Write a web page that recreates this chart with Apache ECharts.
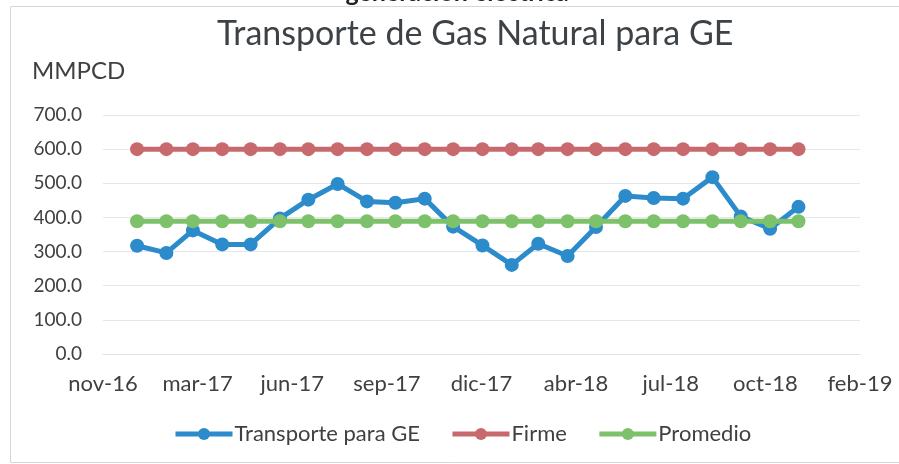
<!DOCTYPE html>
<html>
<head>
<meta charset="utf-8">
<script src="https://cdn.jsdelivr.net/npm/echarts@6/dist/echarts.min.js"></script>
<style>
  html, body { margin: 0; padding: 0; background: #fff; }
  #chart { width: 899px; height: 464px; }
</style>
</head>
<body>
<div id="chart"></div>
<script>
// monthly data, jan-2017 .. dec-2018
const months = [
  "2017-01", "2017-02", "2017-03", "2017-04", "2017-05", "2017-06",
  "2017-07", "2017-08", "2017-09", "2017-10", "2017-11", "2017-12",
  "2018-01", "2018-02", "2018-03", "2018-04", "2018-05", "2018-06",
  "2018-07", "2018-08", "2018-09", "2018-10", "2018-11", "2018-12"
];
const transporte = [
  317, 296, 362, 321, 321, 397, 452, 498, 447, 443, 455, 373,
  318, 261, 323, 287, 372, 463, 457, 455, 518, 403, 367, 431
];
const firme = [
  600, 600, 600, 600, 600, 600, 600, 600, 600, 600, 600, 600,
  600, 600, 600, 600, 600, 600, 600, 600, 600, 600, 600, 600
];
const promedio = [
  389, 389, 389, 389, 389, 389, 389, 389, 389, 389, 389, 389,
  389, 389, 389, 389, 389, 389, 389, 389, 389, 389, 389, 389
];
const mesesES = ["ene", "feb", "mar", "abr", "may", "jun", "jul", "ago", "sep", "oct", "nov", "dic"];

const FONT = "Lato";
const TXT = "#404040";

// excel serial date (days since 1899-12-30)
const EPOCH = Date.UTC(1899, 11, 30);
function toSerial(ym) {
  const [y, m] = ym.split("-").map(Number);
  return (Date.UTC(y, m - 1, 1) - EPOCH) / 86400000;
}
function serialLabel(v) {
  const d = new Date(EPOCH + v * 86400000);
  return mesesES[d.getUTCMonth()] + "-" + String(d.getUTCFullYear()).slice(2);
}
const xs = months.map(toSerial);
const pairs = (vals) => vals.map((v, i) => [xs[i], v]);

const chart = echarts.init(document.getElementById("chart"), null, { renderer: "canvas" });

function lineSeries(name, vals, color) {
  return {
    name: name,
    type: "line",
    data: pairs(vals),
    symbol: "circle",
    symbolSize: 14,
    showSymbol: true,
    lineStyle: { color: color, width: 5 },
    itemStyle: { color: color },
    animation: false
  };
}

chart.setOption({
  backgroundColor: "#fff",
  animation: false,
  title: {
    text: "Transporte de Gas Natural para GE",
    left: 212,
    top: 12,
    textStyle: { fontFamily: FONT, fontSize: 34, fontWeight: "normal", color: "#3d4247" }
  },
  graphic: [
    {
      type: "rect",
      shape: { x: 10.5, y: 6.5, width: 1000, height: 456 },
      style: { fill: "none", stroke: "#d6d6d6", lineWidth: 1 },
      silent: true
    },
    {
      type: "text",
      style: {
        text: "generación eléctrica", x: 457, y: -7,
        align: "center", verticalAlign: "middle",
        font: "bold 25px Lato", fill: "#222"
      },
      silent: true
    },
    {
      type: "text",
      style: {
        text: "MMPCD", x: 32, y: 71,
        verticalAlign: "middle",
        font: "24px Lato", fill: TXT
      },
      silent: true
    }
  ],
  legend: {
    top: 418,
    left: 168,
    itemWidth: 57,
    itemHeight: 15,
    itemGap: 30,
    lineStyle: { width: 5 },
    textStyle: { fontFamily: FONT, fontSize: 22, color: TXT, padding: [0, 0, 0, -3] },
    data: ["Transporte para GE", "Firme", "Promedio"]
  },
  grid: { left: 103, right: 39, top: 115, bottom: 110 },
  xAxis: {
    type: "value",
    min: 42700,
    max: 43500,
    interval: 100,
    axisLine: { show: true, lineStyle: { color: "#e3e3e3" } },
    axisTick: { show: false },
    splitLine: { show: false },
    axisLabel: {
      formatter: serialLabel,
      fontFamily: FONT, fontSize: 22, color: TXT, margin: 19
    }
  },
  yAxis: {
    type: "value",
    min: 0,
    max: 700,
    interval: 100,
    axisLine: { show: false },
    axisTick: { show: false },
    splitLine: { lineStyle: { color: "#e6e6e6", width: 1 } },
    axisLabel: {
      formatter: (v) => v.toFixed(1),
      fontFamily: FONT, fontSize: 19, color: TXT, margin: 21
    }
  },
  series: [
    lineSeries("Transporte para GE", transporte, "#2b8bcb"),
    lineSeries("Firme", firme, "#c8696d"),
    lineSeries("Promedio", promedio, "#7dc26b")
  ]
});
</script>
</body>
</html>
